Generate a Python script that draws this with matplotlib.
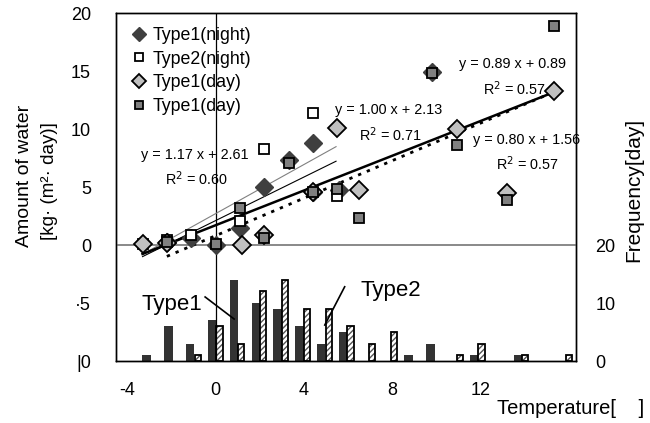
import matplotlib
matplotlib.use("Agg")
import matplotlib.pyplot as plt
import numpy as np

plt.rcParams['font.family'] = ['Liberation Sans', 'DejaVu Sans']

# ---- scatter data (temperature, amount of water) ----
t1_night_x = [-2.2, -1.1, 0.0, 1.1, 2.2, 3.3, 4.4, 4.4, 5.6, 9.8]
t1_night_y = [0.3, 0.6, 0.0, 1.5, 5.0, 7.3, 8.8, 4.6, 4.7, 14.9]

t2_night_x = [-3.3, -2.2, -1.1, 1.1, 2.2, 4.4, 5.5]
t2_night_y = [0.1, 0.4, 0.9, 2.1, 8.3, 11.4, 4.2]

t1_day_x = [-3.3, -2.2, 1.2, 2.2, 4.4, 5.5, 6.5, 10.9, 13.2, 15.3]
t1_day_y = [0.1, 0.2, 0.0, 0.9, 4.6, 10.1, 4.7, 10.0, 4.5, 13.3]

t1_day2_x = [-2.2, 0.0, 1.1, 2.2, 3.3, 4.4, 5.5, 6.5, 9.8, 10.9, 13.2, 15.3]
t1_day2_y = [0.3, 0.1, 3.2, 0.6, 7.1, 4.6, 4.8, 2.3, 14.8, 8.6, 3.9, 18.9]

legend_labels = ['Type1(night)', 'Type2(night)', 'Type1(day)', 'Type1(day)']

# ---- trend lines (slope, intercept, x-range) as they appear ----
trend_slope = [1.06, 0.94, 0.75, 0.81]
trend_icpt = [2.7, 2.1, 1.7, 0.8]
trend_x0 = [-3.3, -3.3, -3.3, -2.2]
trend_x1 = [5.45, 5.45, 15.3, 15.0]
trend_text = ['y = 1.17 x + 2.61', 'y = 1.00 x + 2.13', 'y = 0.89 x + 0.89', 'y = 0.80 x + 1.56']
r2_text = ['R$^2$ = 0.60', 'R$^2$ = 0.71', 'R$^2$ = 0.57', 'R$^2$ = 0.57']

# ---- frequency histogram (category per degree) ----
freq_t = list(range(-3, 17))
freq_type1 = [1, 6, 3, 7, 14, 10, 9, 6, 3, 5, 0, 0, 1, 3, 0, 1, 0, 1, 0, 0]
freq_type2 = [0, 0, 1, 6, 3, 12, 14, 9, 9, 6, 3, 5, 0, 0, 1, 3, 0, 1, 0, 1]

left_ticks = [-10, -5, 0, 5, 10, 15, 20]
left_ticklabels = ['|0', '·5', '0', '5', '10', '15', '20']
right_ticks = [0, 10, 20]
x_ticks = [-4, 0, 4, 8, 12]

W, H = 650, 423
fig = plt.figure(figsize=(6.5, 4.23), dpi=100)
rect = [116 / W, 1 - 361 / H, (576 - 116) / W, (361 - 13) / H]

# histogram axes (own category x-scale, frequency on right)
axh = fig.add_axes(rect)
axh.set_xlim(-4.40, 16.67)
axh.set_ylim(0, 60)
ft = np.array(freq_t, dtype=float)
axh.bar(ft, freq_type1, width=0.38, color='#333333', linewidth=0, zorder=2)
axh.bar(ft + 0.34, freq_type2, width=0.28, color='white', edgecolor='#555555',
        hatch='//////', linewidth=0, zorder=2)
axh.bar(ft + 0.34, freq_type2, width=0.28, fill=False, edgecolor='black',
        linewidth=1.3, zorder=3)
for p in axh.patches:
    if p.get_height() == 0:
        p.set_visible(False)
axh.set_xticks([])
axh.yaxis.tick_right()
axh.set_yticks(right_ticks)
axh.tick_params(axis='y', length=0, labelsize=13, pad=14)

# main scatter axes
ax = fig.add_axes(rect)
ax.patch.set_visible(False)
ax.set_xlim(-4.5, 16.3)
ax.set_ylim(-10, 20)

ax.axhline(0, color='#808080', lw=1.3, zorder=1)
ax.axvline(0, color='black', lw=0.9, zorder=1)

styles = [dict(color='#808080', lw=0.8, ls='-'),
          dict(color='black', lw=0.8, ls='-'),
          dict(color='black', lw=1.8, ls='-'),
          dict(color='black', lw=2.0, ls=(0, (1.2, 2.2)))]
for s, b, x0, x1, st in zip(trend_slope, trend_icpt, trend_x0, trend_x1, styles):
    xs = np.array([x0, x1])
    ax.plot(xs, s * xs + b, zorder=3, **st)

h1, = ax.plot(t1_night_x, t1_night_y, 'D', ms=9.5, mfc='#3f3f3f', mec='#3f3f3f', mew=1, zorder=4, label=legend_labels[0])
h2, = ax.plot(t2_night_x, t2_night_y, 's', ms=7.5, mfc='white', mec='black', mew=1.3, zorder=5, label=legend_labels[1])
h3, = ax.plot(t1_day_x, t1_day_y, 'D', ms=9.0, mfc='#c0c0c0', mec='black', mew=1.3, zorder=6, label=legend_labels[2])
h4, = ax.plot(t1_day2_x, t1_day2_y, 's', ms=7.5, mfc='#808080', mec='black', mew=1.3, zorder=7, label=legend_labels[3])

ax.legend(handles=[h1, h2, h3, h4], loc='upper left', bbox_to_anchor=(0.005, 0.996),
          frameon=False, fontsize=12.8, markerscale=0.78, handlelength=0.9,
          handletextpad=0.35, labelspacing=0.38, borderaxespad=0.3)

eq_pos = [(-3.35, 7.8), (5.39, 11.6), (11.0, 15.6), (11.63, 9.05)]
r2_pos = [(-2.27, 5.7), (6.48, 9.5), (12.1, 13.5), (12.7, 7.0)]
for (x, y), t in zip(eq_pos, trend_text):
    ax.text(x, y, t, fontsize=10.4, ha='left', va='center', zorder=8)
for (x, y), t in zip(r2_pos, r2_text):
    ax.text(x, y, t, fontsize=10.4, ha='left', va='center', zorder=8)

ax.text(-3.35, -5.17, 'Type1', fontsize=16, ha='left', va='center')
ax.plot([-0.47, 0.84], [-4.48, -6.38], color='black', lw=1.2)
ax.text(6.55, -3.9, 'Type2', fontsize=16, ha='left', va='center')
ax.plot([5.84, 4.94], [-3.6, -6.9], color='black', lw=1.2)

ax.set_yticks(left_ticks)
ax.set_yticklabels(left_ticklabels)
ax.set_xticks(x_ticks)
ax.set_xticklabels([str(v) for v in x_ticks])
ax.tick_params(axis='both', length=0, labelsize=13)
ax.tick_params(axis='y', pad=18)
ax.tick_params(axis='x', pad=15)
for a in (ax, axh):
    for sp in a.spines.values():
        sp.set_linewidth(1.0)
        sp.set_color('black')

fig.text(25 / W, 1 - 176 / H, 'Amount of water', rotation=90, fontsize=14, ha='center', va='center')
fig.text(50 / W, 1 - 181 / H, '[kg· (m²· day)]', rotation=90, fontsize=13.5, ha='center', va='center')
fig.text(634 / W, 1 - 190 / H, 'Frequency[day]', rotation=90, fontsize=15, ha='center', va='center')
fig.text(497 / W, 1 - 408 / H, 'Temperature[    ]', fontsize=14.5, ha='left', va='center')

fig.savefig('out.png', dpi=100)
